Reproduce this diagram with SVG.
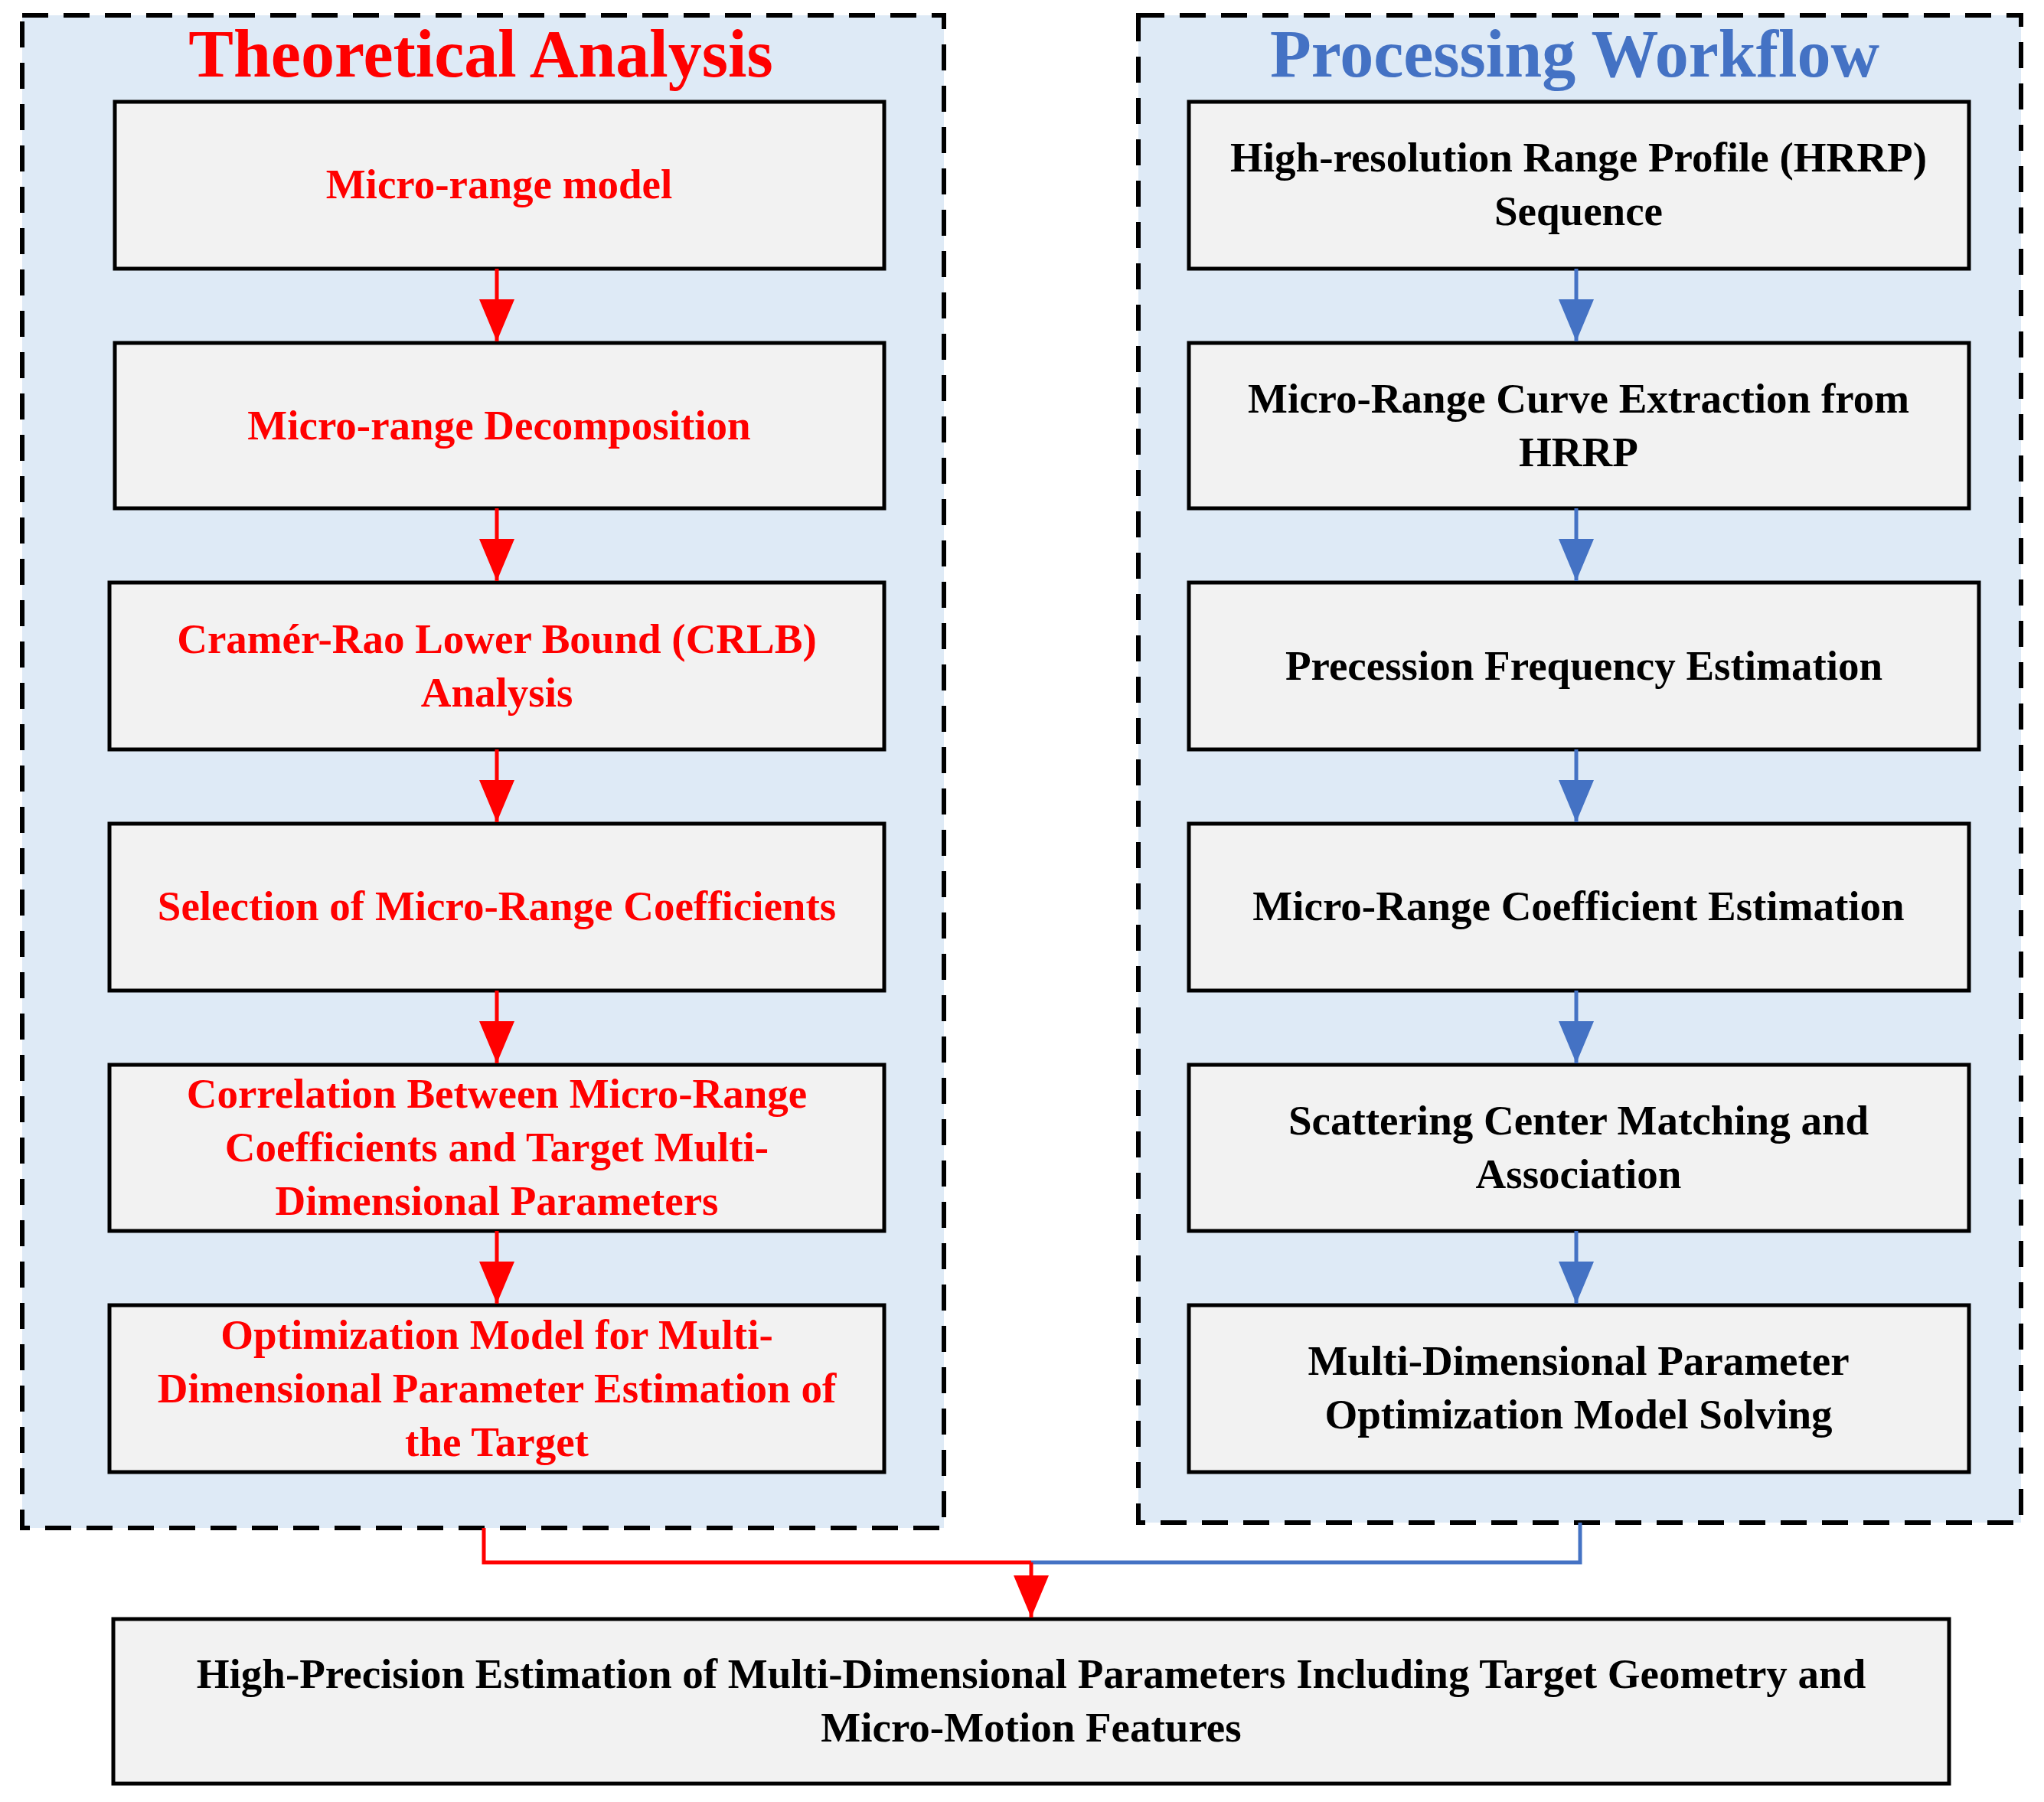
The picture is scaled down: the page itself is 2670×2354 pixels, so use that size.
<svg xmlns="http://www.w3.org/2000/svg" width="2670" height="2354" viewBox="0 0 2670 2354">
<style>
.c{fill:#DEEAF6;stroke:#000;stroke-width:6;stroke-dasharray:34 20}
.b{fill:#F2F2F2;stroke:#000;stroke-width:5}
text{font-family:"Liberation Serif","Times New Roman",serif;font-weight:bold;text-anchor:middle;dominant-baseline:central}
.t{font-size:55px}
.r{fill:#FF0000}
.k{fill:#000}
.h{font-size:88px}
.lr{stroke:#FF0000;stroke-width:5;fill:none}
.lb{stroke:#4472C4;stroke-width:5;fill:none}
</style>
<defs>
<marker id="ar" markerWidth="55" markerHeight="46" refX="55" refY="23" orient="auto" markerUnits="userSpaceOnUse" viewBox="0 0 55 46"><path d="M0,0L55,23L0,46Z" fill="#FF0000"/></marker>
<marker id="ab" markerWidth="55" markerHeight="46" refX="55" refY="23" orient="auto" markerUnits="userSpaceOnUse" viewBox="0 0 55 46"><path d="M0,0L55,23L0,46Z" fill="#4472C4"/></marker>
</defs>
<g id="container-left"><rect class="c" x="29" y="20" width="1204" height="1976"/><text class="h r" x="628" y="70">Theoretical Analysis</text></g>
<g id="container-right"><rect class="c" x="1487" y="20" width="1153" height="1969"/><text class="h" x="2057" y="70" fill="#4472C4">Processing Workflow</text></g>
<g id="l1"><rect class="b" x="150" y="133" width="1005" height="218"/><text class="t r" x="652" y="240">Micro-range model</text></g>
<g id="l2"><rect class="b" x="150" y="448" width="1005" height="216"/><text class="t r" x="652" y="555">Micro-range Decomposition</text></g>
<g id="l3"><rect class="b" x="143" y="761" width="1012" height="218"/><text class="t r" x="649" y="834">Cramér-Rao Lower Bound (CRLB)</text><text class="t r" x="649" y="904">Analysis</text></g>
<g id="l4"><rect class="b" x="143" y="1076" width="1012" height="218"/><text class="t r" x="649" y="1183">Selection of Micro-Range Coefficients</text></g>
<g id="l5"><rect class="b" x="143" y="1391" width="1012" height="217"/><text class="t r" x="649" y="1428">Correlation Between Micro-Range</text><text class="t r" x="649" y="1498">Coefficients and Target Multi-</text><text class="t r" x="649" y="1568">Dimensional Parameters</text></g>
<g id="l6"><rect class="b" x="143" y="1705" width="1012" height="218"/><text class="t r" x="649" y="1743">Optimization Model for Multi-</text><text class="t r" x="649" y="1813">Dimensional Parameter Estimation of</text><text class="t r" x="649" y="1883">the Target</text></g>
<g id="r1"><rect class="b" x="1553" y="133" width="1019" height="218"/><text class="t k" x="2062" y="205">High-resolution Range Profile (HRRP)</text><text class="t k" x="2062" y="275">Sequence</text></g>
<g id="r2"><rect class="b" x="1553" y="448" width="1019" height="216"/><text class="t k" x="2062" y="520">Micro-Range Curve Extraction from</text><text class="t k" x="2062" y="590">HRRP</text></g>
<g id="r3"><rect class="b" x="1553" y="761" width="1032" height="218"/><text class="t k" x="2069" y="869">Precession Frequency Estimation</text></g>
<g id="r4"><rect class="b" x="1553" y="1076" width="1019" height="218"/><text class="t k" x="2062" y="1183">Micro-Range Coefficient Estimation</text></g>
<g id="r5"><rect class="b" x="1553" y="1391" width="1019" height="217"/><text class="t k" x="2062" y="1463">Scattering Center Matching and</text><text class="t k" x="2062" y="1533">Association</text></g>
<g id="r6"><rect class="b" x="1553" y="1705" width="1019" height="218"/><text class="t k" x="2062" y="1777">Multi-Dimensional Parameter</text><text class="t k" x="2062" y="1847">Optimization Model Solving</text></g>
<g id="out"><rect class="b" x="148" y="2115" width="2398" height="215"/><text class="t k" x="1347" y="2186">High-Precision Estimation of Multi-Dimensional Parameters Including Target Geometry and</text><text class="t k" x="1347" y="2256">Micro-Motion Features</text></g>
<g id="connectors">
<line class="lr" x1="649" y1="351" x2="649" y2="446" marker-end="url(#ar)"/>
<line class="lr" x1="649" y1="664" x2="649" y2="759" marker-end="url(#ar)"/>
<line class="lr" x1="649" y1="979" x2="649" y2="1074" marker-end="url(#ar)"/>
<line class="lr" x1="649" y1="1294" x2="649" y2="1389" marker-end="url(#ar)"/>
<line class="lr" x1="649" y1="1608" x2="649" y2="1703" marker-end="url(#ar)"/>
<line class="lb" x1="2059" y1="351" x2="2059" y2="446" marker-end="url(#ab)"/>
<line class="lb" x1="2059" y1="664" x2="2059" y2="759" marker-end="url(#ab)"/>
<line class="lb" x1="2059" y1="979" x2="2059" y2="1074" marker-end="url(#ab)"/>
<line class="lb" x1="2059" y1="1294" x2="2059" y2="1389" marker-end="url(#ab)"/>
<line class="lb" x1="2059" y1="1608" x2="2059" y2="1703" marker-end="url(#ab)"/>
<path class="lb" d="M2064,1989V2041H1347"/>
<path class="lr" d="M632,1996V2041H1347"/>
<line class="lr" x1="1347" y1="2041" x2="1347" y2="2113" marker-end="url(#ar)"/>
</g>
</svg>
